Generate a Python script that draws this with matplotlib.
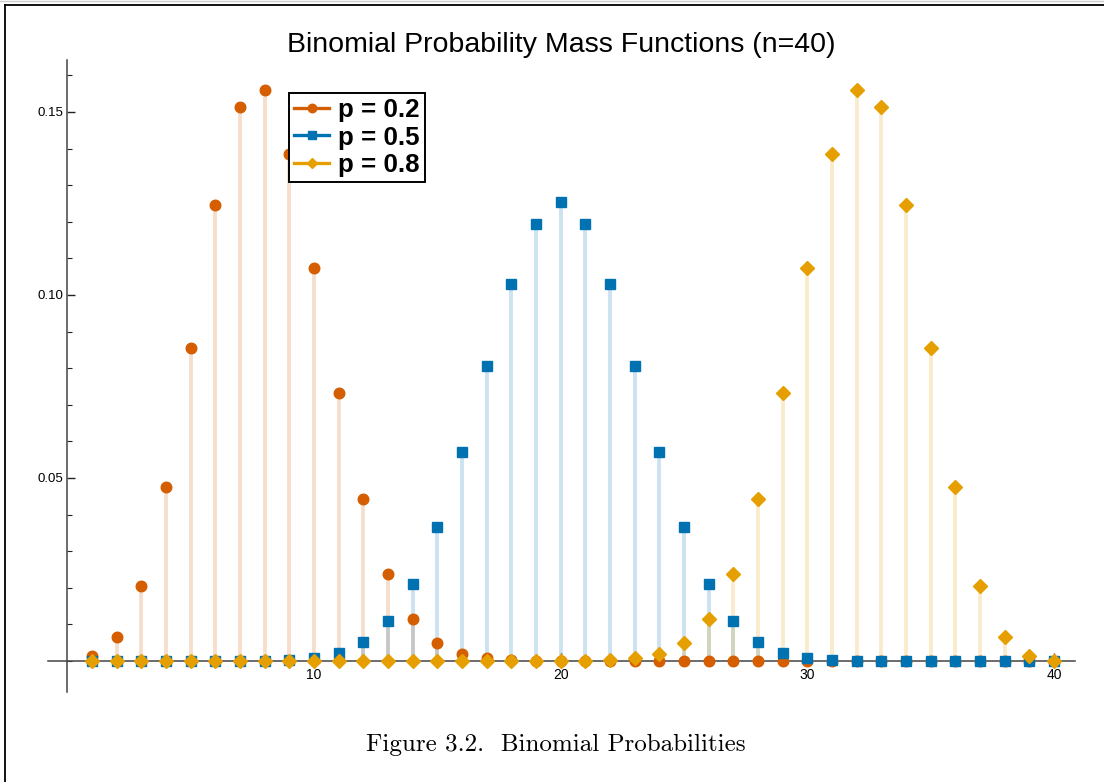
import matplotlib.pyplot as plt
from matplotlib.lines import Line2D
from matplotlib.ticker import MultipleLocator, FixedLocator

# k = 1..40, binomial pmf values with n = 40
k = list(range(1, 41))

p02 = [0.001329, 0.006479, 0.020516, 0.047443, 0.085398, 0.124539, 0.151226, 0.155952,
       0.138624, 0.107433, 0.073250, 0.044255, 0.023830, 0.011489, 0.004979, 0.001945,
       0.000686, 0.000219, 0.000064, 0.000017, 0.000004, 0.000001, 0.0, 0.0,
       0.0, 0.0, 0.0, 0.0, 0.0, 0.0, 0.0, 0.0,
       0.0, 0.0, 0.0, 0.0, 0.0, 0.0, 0.0, 0.0]

p05 = [0.0, 0.0, 0.0, 0.0, 0.0, 0.0, 0.000017, 0.000070,
       0.000249, 0.000771, 0.002103, 0.005081, 0.010945, 0.021107, 0.036585, 0.057164,
       0.080702, 0.103119, 0.119401, 0.125371, 0.119401, 0.103119, 0.080702, 0.057164,
       0.036585, 0.021107, 0.010945, 0.005081, 0.002103, 0.000771, 0.000249, 0.000070,
       0.000017, 0.0, 0.0, 0.0, 0.0, 0.0, 0.0, 0.0]

p08 = [0.0, 0.0, 0.0, 0.0, 0.0, 0.0, 0.0, 0.0,
       0.0, 0.0, 0.0, 0.0, 0.0, 0.0, 0.0, 0.0,
       0.0, 0.0, 0.000001, 0.000017, 0.000064, 0.000219, 0.000686, 0.001945,
       0.004979, 0.011489, 0.023830, 0.044255, 0.073250, 0.107433, 0.138624, 0.155952,
       0.151226, 0.124539, 0.085398, 0.047443, 0.020516, 0.006479, 0.001329, 0.000133]

labels = ['p = 0.2', 'p = 0.5', 'p = 0.8']
colors = ['#D55E00', '#0072B2', '#E69F00']
markers = ['o', 's', 'D']
msizes = [7.6, 7.4, 6.8]

fig = plt.figure(figsize=(11.04, 7.82), dpi=100)
ax = fig.add_axes([48 / 1104, 1 - 692 / 782, 1027 / 1104, 632 / 782])

series = [p02, p05, p08]

# stems first, then the markers on top
for vals, c in zip(series, colors):
    ax.vlines(k, 0, vals, colors=c, alpha=0.2, lw=2.8, zorder=1)

handles = []
for vals, c, m, ms, lab in zip(series, colors, markers, msizes, labels):
    ax.plot(k, vals, ls='none', marker=m, ms=ms, color=c, mec=c, zorder=3)
    handles.append(Line2D([], [], color=c, lw=2.4, marker=m, ms=ms * 0.8, label=lab))

ax.set_xlim(-0.78, 40.85)
ax.set_ylim(-0.00847, 0.1642)

for s in ['top', 'right']:
    ax.spines[s].set_visible(False)
ax.spines['left'].set_position(('data', 0))
ax.spines['bottom'].set_position(('data', 0))
for s in ['left', 'bottom']:
    ax.spines[s].set_color('#444444')
    ax.spines[s].set_linewidth(1.1)

ax.xaxis.set_major_locator(FixedLocator([10, 20, 30, 40]))
ax.xaxis.set_minor_locator(FixedLocator([2, 4, 6, 8, 12, 14, 16, 18, 22, 24, 26, 28,
                                         32, 34, 36, 38]))
ax.yaxis.set_major_locator(FixedLocator([0.05, 0.10, 0.15]))
ax.yaxis.set_minor_locator(MultipleLocator(0.01))
ax.set_yticklabels(['0.05', '0.10', '0.15'])

ax.tick_params(which='both', direction='in', color='#222222', labelsize=10)
ax.tick_params(which='major', length=6, width=1)
ax.tick_params(which='minor', length=3.5, width=0.8)
ax.tick_params(axis='x', pad=5)
ax.tick_params(axis='y', pad=3, labelsize=9.5)
for t in ax.get_xticklabels() + ax.get_yticklabels():
    t.set_fontfamily('Liberation Sans')

leg = ax.legend(handles=handles, loc='upper left', bbox_to_anchor=(0.2347, 0.9478),
                borderaxespad=0, fancybox=False, framealpha=1, edgecolor='black',
                prop={'family': 'Liberation Sans', 'weight': 'bold', 'size': 18.6},
                handlelength=1.35, handletextpad=0.35, labelspacing=0.13,
                borderpad=0.2)
leg.get_frame().set_linewidth(1.4)

fig.text(561.5 / 1104, 1 - 45 / 782, 'Binomial Probability Mass Functions (n=40)',
         ha='center', va='center', fontsize=20.5, family='Liberation Sans')

fig.text(556 / 1104, 1 - 745 / 782, 'Figure 3.2.  Binomial Probabilities',
         ha='center', va='center', fontsize=18, family=['cmr10', 'DejaVu Serif'])

# page border (top and left edge)
fig.add_artist(Line2D([5 / 1104, 1], [1 - 5 / 782, 1 - 5 / 782],
                      transform=fig.transFigure, color='black', lw=1.3))
fig.add_artist(Line2D([5 / 1104, 5 / 1104], [0, 1 - 5 / 782],
                      transform=fig.transFigure, color='black', lw=1.3))
fig.add_artist(Line2D([0, 1], [1 - 0.8 / 782, 1 - 0.8 / 782],
                      transform=fig.transFigure, color='#cccccc', lw=1))

fig.savefig('out.png', dpi=100)
